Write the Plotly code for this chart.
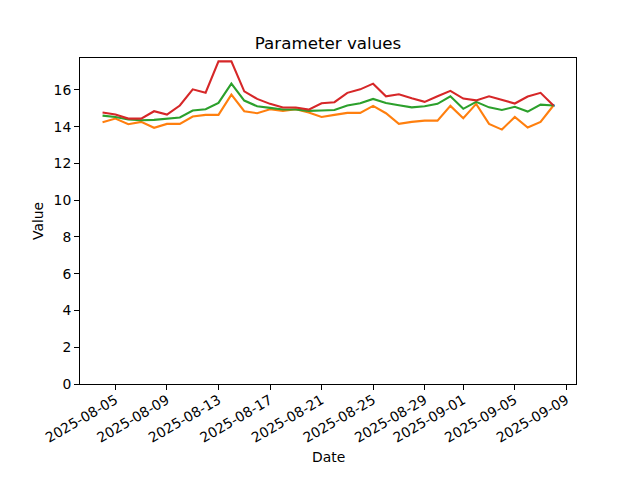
import pandas as pd
import plotly.graph_objects as go

dates = pd.date_range("2025-08-04", "2025-09-08", freq="D")

orange_values = [14.24, 14.44, 14.13, 14.26, 13.94, 14.15, 14.15, 14.55, 14.64, 14.64,
                 15.74, 14.84, 14.73, 14.95, 14.86, 14.95, 14.77, 14.53, 14.64, 14.75,
                 14.75, 15.13, 14.73, 14.15, 14.26, 14.33, 14.33, 15.13, 14.46, 15.24,
                 14.15, 13.84, 14.53, 13.95, 14.26, 15.15]
green_values = [14.60, 14.53, 14.39, 14.35, 14.37, 14.42, 14.50, 14.88, 14.95, 15.29,
                16.34, 15.42, 15.11, 15.02, 14.93, 14.93, 14.86, 14.88, 14.91, 15.15,
                15.27, 15.51, 15.29, 15.17, 15.05, 15.11, 15.24, 15.65, 14.97, 15.35,
                15.05, 14.91, 15.08, 14.82, 15.20, 15.15]
red_values = [14.77, 14.66, 14.44, 14.44, 14.84, 14.66, 15.15, 16.03, 15.85, 17.55,
              17.55, 15.92, 15.51, 15.24, 15.04, 15.04, 14.93, 15.27, 15.33, 15.84,
              16.03, 16.34, 15.65, 15.76, 15.54, 15.35, 15.65, 15.95, 15.53, 15.43,
              15.65, 15.46, 15.26, 15.64, 15.84, 15.15]
blue_dates = ["2025-09-08"]
blue_values = [15.15]

tick_dates = ["2025-08-05", "2025-08-09", "2025-08-13", "2025-08-17", "2025-08-21",
              "2025-08-25", "2025-08-29", "2025-09-01", "2025-09-05", "2025-09-09"]
y_ticks = [0, 2, 4, 6, 8, 10, 12, 14, 16]

FONT = "DejaVu Sans"

fig = go.Figure()
fig.add_trace(go.Scatter(x=blue_dates, y=blue_values, mode="markers",
                         marker=dict(color="#1f77b4", size=3), showlegend=False))
fig.add_trace(go.Scatter(x=dates, y=orange_values, mode="lines",
                         line=dict(color="#ff7f0e", width=2.1), showlegend=False))
fig.add_trace(go.Scatter(x=dates, y=green_values, mode="lines",
                         line=dict(color="#2ca02c", width=2.1), showlegend=False))
fig.add_trace(go.Scatter(x=dates, y=red_values, mode="lines",
                         line=dict(color="#d62728", width=2.1), showlegend=False))

span = dates[-1] - dates[0]
xr = [dates[0] - span * 0.05, dates[-1] + span * 0.05]
all_vals = orange_values + green_values + red_values
ymax = max(all_vals) + 0.05 * (max(all_vals) - min(all_vals))

fig.update_layout(
    width=640, height=480,
    margin=dict(l=80, r=64, t=58, b=96, pad=0, autoexpand=False),
    paper_bgcolor="white", plot_bgcolor="white",
    font=dict(family=FONT, size=13.9, color="black"),
    title=dict(text="Parameter values", x=328 / 640, xanchor="center",
               y=1 - 43 / 480, yanchor="middle", yref="container",
               font=dict(size=16.7, family=FONT, color="black")),
    xaxis=dict(range=xr, tickvals=list(pd.to_datetime(tick_dates)), ticktext=tick_dates,
               tickangle=-30, ticks="outside", ticklen=4.9, tickwidth=1.1, tickcolor="black",
               ticklabelstandoff=-3,
               showline=True, linecolor="black", linewidth=1.1, mirror=True,
               showgrid=False, zeroline=False, tickfont=dict(size=13.9, family=FONT)),
    yaxis=dict(range=[0, ymax], tickvals=y_ticks, ticks="outside", ticklen=4.9,
               tickwidth=1.1, tickcolor="black",
               showline=True, linecolor="black", linewidth=1.1, mirror=True,
               showgrid=False, zeroline=False, tickfont=dict(size=13.9, family=FONT)),
    annotations=[
        dict(text="Date", xref="paper", yref="paper", x=0.5, y=-(457 - 384) / (384 - 58),
             xanchor="center", yanchor="middle", showarrow=False,
             font=dict(size=13.9, family=FONT, color="black")),
        dict(text="Value", xref="paper", yref="paper", x=-(80 - 38) / 496, y=0.5,
             xanchor="center", yanchor="middle", textangle=-90, showarrow=False,
             font=dict(size=13.9, family=FONT, color="black")),
    ],
)

fig.write_html("out.html", config={"displayModeBar": False},
               post_script="document.body.style.margin='0';document.body.style.padding='0';")
